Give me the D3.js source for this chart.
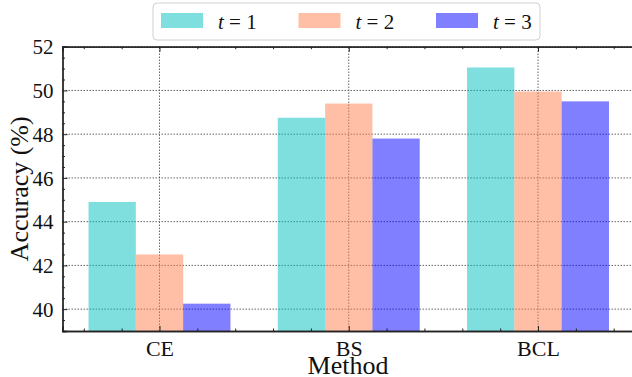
<!DOCTYPE html>
<html>
<head>
<meta charset="utf-8">
<script src="https://cdn.jsdelivr.net/npm/d3@7"></script>
<style>
  body { margin: 0; background: #fff; }
  svg { display: block; font-family: "Liberation Serif", "Times New Roman", "DejaVu Serif", serif; }
</style>
</head>
<body>
<div id="chart"></div>
<script>
// chart values
const methods = ['CE', 'BS', 'BCL'];
const seriesNames = ['1', '2', '3'];
const t1 = [44.9, 48.75, 51.05];
const t2 = [42.5, 49.4, 49.95];
const t3 = [40.25, 47.8, 49.5];
const yTicks = [40, 42, 44, 46, 48, 50, 52];

const colors = ['#00bfbf', '#ff7f50', '#0000ff'];
const allSeries = [t1, t2, t3];

const width = 632, height = 377;
const margin = { left: 62.5, top: 46.7, right: -3, bottom: 46 };

const svg = d3.select('#chart').append('svg')
  .attr('width', width)
  .attr('height', height);

// numeric x like matplotlib: groups at 0,1,2, bar width .25
const x = d3.scaleLinear()
  .domain([-0.5125, 2.5125])
  .range([margin.left, width - margin.right]);
const y = d3.scaleLinear()
  .domain([39, 52])
  .range([height - margin.bottom, margin.top]);

const plot = svg.append('g');
const barW = 0.25;

// grid below the half transparent bars
const grid = plot.append('g')
  .attr('stroke', '#555')
  .attr('stroke-width', 0.9)
  .attr('stroke-dasharray', '1.5,1.5');
grid.selectAll('line.h')
  .data(yTicks)
  .enter().append('line')
  .attr('x1', x.range()[0]).attr('x2', x.range()[1])
  .attr('y1', d => y(d)).attr('y2', d => y(d));
grid.selectAll('line.v')
  .data(methods)
  .enter().append('line')
  .attr('x1', (d, i) => x(i)).attr('x2', (d, i) => x(i))
  .attr('y1', y.range()[0]).attr('y2', y.range()[1]);

// bars
allSeries.forEach((vals, s) => {
  plot.append('g').selectAll('rect')
    .data(vals)
    .enter().append('rect')
    .attr('x', (d, i) => x(i + (s - 1) * barW - barW / 2))
    .attr('width', x(barW) - x(0))
    .attr('y', d => y(d))
    .attr('height', d => y(39) - y(d))
    .attr('fill', colors[s])
    .attr('fill-opacity', 0.5);
});

// axes, ticks inward
const yMinor = d3.range(39, 52.01, 0.5).filter(v => v % 2 !== 0);
const xMinor = d3.range(-0.4, 2.41, 0.2).filter(v => Math.abs(v - Math.round(v)) > 0.01);

const yAxis = d3.axisLeft(y).tickValues(yTicks).tickSize(-5).tickPadding(9).tickFormat(d3.format('d'));
const yAxisMinor = d3.axisLeft(y).tickValues(yMinor).tickSize(-2.5).tickFormat('');
const xAxis = d3.axisBottom(x).tickValues([0, 1, 2]).tickSize(-5).tickPadding(9).tickFormat((d, i) => methods[i]);
const xAxisMinor = d3.axisBottom(x).tickValues(xMinor).tickSize(-2.5).tickFormat('');
const xTop = d3.axisTop(x).tickValues([0, 1, 2]).tickSize(-5).tickFormat('');
const xTopMinor = d3.axisTop(x).tickValues(xMinor).tickSize(-2.5).tickFormat('');

function styleAxis(g) {
  g.attr('font-family', null);
  g.select('.domain').attr('stroke', '#222').attr('stroke-width', 1.3);
  g.selectAll('.tick line').attr('stroke', '#222').attr('stroke-width', 1);
  g.selectAll('.tick text').attr('fill', '#111');
}

svg.append('g').attr('transform', `translate(${margin.left},0)`).call(yAxisMinor).call(styleAxis);
svg.append('g').attr('transform', `translate(${margin.left},0)`).call(yAxis).call(styleAxis)
  .selectAll('.tick text').style('font-size', '21px').attr('dy', '0.34em');
svg.append('g').attr('transform', `translate(0,${y(39)})`).call(xAxisMinor).call(styleAxis);
svg.append('g').attr('transform', `translate(0,${y(39)})`).call(xAxis).call(styleAxis)
  .selectAll('.tick text').style('font-size', '22px').attr('dy', '0.72em');
svg.append('g').attr('transform', `translate(0,${y(52)})`).call(xTopMinor).call(styleAxis);
svg.append('g').attr('transform', `translate(0,${y(52)})`).call(xTop).call(styleAxis);

// axis titles
svg.append('text')
  .attr('x', 348).attr('y', 374)
  .attr('text-anchor', 'middle')
  .style('font-size', '26px')
  .attr('fill', '#111')
  .text('Method');
svg.append('text')
  .attr('transform', `translate(28,${(y(39) + y(52)) / 2}) rotate(-90)`)
  .attr('text-anchor', 'middle')
  .style('font-size', '26px')
  .attr('fill', '#111')
  .text('Accuracy (%)');

// legend
const legend = svg.append('g').attr('transform', 'translate(153,3)');
legend.append('rect')
  .attr('width', 387).attr('height', 37)
  .attr('rx', 4)
  .attr('fill', '#fff').attr('fill-opacity', 0.85)
  .attr('stroke', '#d0d0d0').attr('stroke-width', 1);
seriesNames.forEach((name, i) => {
  const g = legend.append('g').attr('transform', `translate(${8 + i * 137.5},0)`);
  g.append('rect')
    .attr('x', 0).attr('y', 10)
    .attr('width', 42).attr('height', 15)
    .attr('fill', colors[i]).attr('fill-opacity', 0.5);
  const t = g.append('text')
    .attr('x', 57).attr('y', 26)
    .style('font-size', '21px')
    .attr('fill', '#111');
  t.append('tspan').style('font-style', 'italic').text('t');
  t.append('tspan').text(' = ' + name);
});
</script>
</body>
</html>
